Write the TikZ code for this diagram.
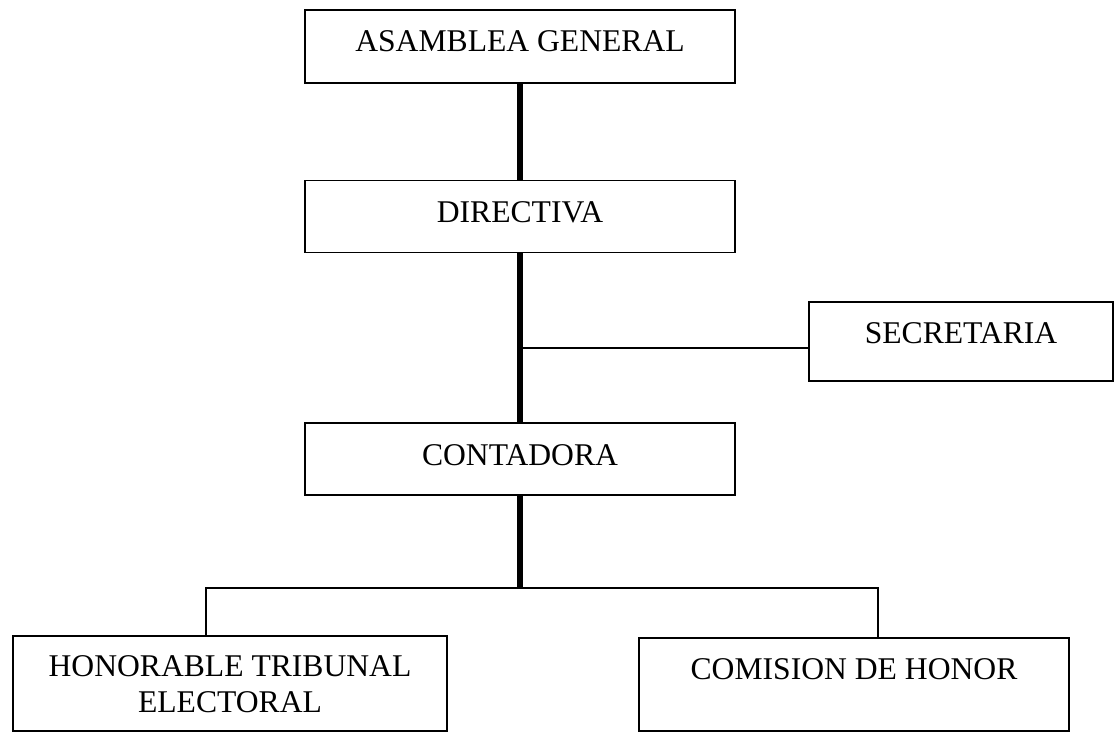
\documentclass[tikz,border=0pt]{standalone}
\usepackage{fontspec}
\setmainfont{Liberation Serif}
\usetikzlibrary{positioning}
\tikzstyle{bx}=[draw, line width=0.9pt, inner sep=0pt, minimum width=8.6cm,
		text height=0.84cm, font=\fontsize{18}{20.5}\selectfont]
\tikzstyle{trunk}=[line width=3.4pt]
\tikzstyle{branch}=[line width=0.9pt]

\begin{document}
\begin{tikzpicture}[x=0.02cm, y=-0.02cm]
                \useasboundingbox (0,0) rectangle (1116,732);
                \node[bx, text depth=0.62cm] (asamblea) at (520,46.5) {ASAMBLEA GENERAL};
                \node[bx, text depth=0.60cm, below=1.92cm of asamblea] (directiva) {DIRECTIVA};
                \node[bx, text depth=0.60cm, below=3.38cm of directiva] (contadora) {CONTADORA};
                \node[bx, text depth=0.74cm, minimum width=6.08cm] (secretaria) at (961,341.5) {SECRETARIA};
                \node[bx, text height=1.54cm, text depth=0.36cm, minimum width=8.68cm, align=center] (tribunal) at (230,683.5) {HONORABLE TRIBUNAL\\ELECTORAL};
                \node[bx, text depth=1.02cm] (comision) at (854,684.5) {COMISION DE HONOR};
                \coordinate (jsec) at (520,348);
                \coordinate (jbot) at (520,588);
                \coordinate (jleft) at (206,588);
                \coordinate (jright) at (878,588);
                \draw[trunk] (asamblea) -- (directiva);
                \draw[trunk] (directiva) -- (contadora);
                \draw[trunk] (contadora) -- (jbot);
                \draw[branch] (jsec) -- (jsec -| secretaria.west);
                \draw[branch] (jleft |- tribunal.north) -- (jleft) -- (jright) -- (jright |- comision.north);
            \end{tikzpicture}
\end{document}
